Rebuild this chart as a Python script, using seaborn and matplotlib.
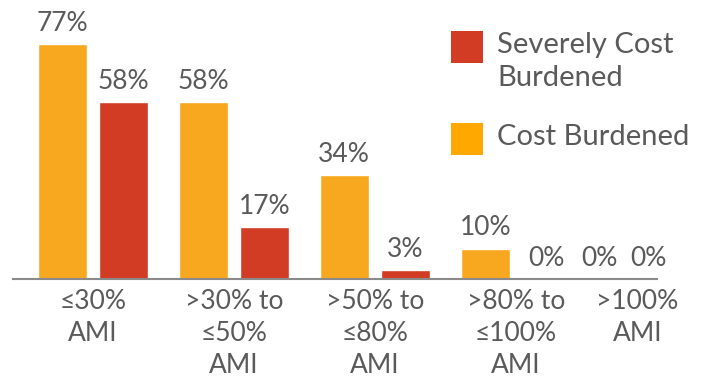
import matplotlib
matplotlib.use("Agg")
import matplotlib.pyplot as plt
import matplotlib.transforms as mtransforms
from matplotlib.patches import Rectangle
import seaborn as sns
import pandas as pd

categories = ["≤30%\nAMI", ">30% to\n≤50%\nAMI", ">50% to\n≤80%\nAMI", ">80% to\n≤100%\nAMI", ">100%\nAMI"]
cost_burdened = [77, 58, 34, 10, 0]
severely_burdened = [58, 17, 3, 0, 0]
series_names = ["Cost Burdened", "Severely Cost Burdened"]

ORANGE = "#F8A81F"
RED = "#D23B24"
LEGEND_ORANGE = "#FFA800"
TEXT = "#5A5A5A"

df = pd.DataFrame({
    "income": categories * 2,
    "share": cost_burdened + severely_burdened,
    "series": [series_names[0]] * len(categories) + [series_names[1]] * len(categories),
})

sns.set_theme(style="white")
plt.rcParams["font.family"] = ["Lato", "DejaVu Sans"]

fig = plt.figure(figsize=(7.06, 3.77), dpi=100)
ax = fig.add_axes([0.0184, 0.26, 0.912, 0.687])

sns.barplot(data=df, x="income", y="share", hue="series", hue_order=series_names,
            palette=[ORANGE, RED], width=0.868, gap=0.205, saturation=1,
            legend=False, ax=ax)

ax.set_xlim(-0.567, 4.0)
ax.set_ylim(0, 85)
ax.set_xlabel("")
ax.set_ylabel("")
ax.set_yticks([])
for side in ["top", "left", "right"]:
    ax.spines[side].set_visible(False)
ax.spines["bottom"].set_color("#8A8A8A")
ax.spines["bottom"].set_linewidth(1.5)
ax.tick_params(axis="x", length=0, pad=7, labelsize=19, labelcolor=TEXT)
for lbl in ax.get_xticklabels():
    lbl.set_linespacing(1.35)
    lbl.set_verticalalignment("top")

# last category label sits nudged left to stay inside the plot area
last_tick = ax.get_xticklabels()[-1]
last_tick.set_transform(last_tick.get_transform() +
                        mtransforms.ScaledTranslation(-14 / 72, 0, fig.dpi_scale_trans))

# value labels above each bar; the final group's labels are pulled inward
shifts = {0: [0, 0, 0, 0, -19], 1: [0, 0, 0, 0, -28]}
for s_idx, container in enumerate(ax.containers):
    values = cost_burdened if s_idx == 0 else severely_burdened
    for i, (bar, v) in enumerate(zip(container.patches, values)):
        x = bar.get_x() + bar.get_width() / 2
        ax.annotate(f"{v}%", xy=(x, bar.get_height()), xytext=(shifts[s_idx][i], 6),
                    textcoords="offset points", ha="center", va="bottom",
                    fontsize=19, color=TEXT, annotation_clip=False)

# legend: swatches with the first text line aligned to each swatch
sw_x, sw_w, sw_h = 0.6388, 0.0453, 0.0849
txt_x = 0.704
legend_rows = [
    (RED, 0.8329, ["Severely Cost", "Burdened"], [0.8806, 0.7931]),
    (LEGEND_ORANGE, 0.5889, ["Cost Burdened"], [0.6366]),
]
for color, y0, lines, ys in legend_rows:
    fig.add_artist(Rectangle((sw_x, y0), sw_w, sw_h, transform=fig.transFigure,
                             facecolor=color, edgecolor="none"))
    for line, ty in zip(lines, ys):
        fig.text(txt_x, ty, line, fontsize=21, color=TEXT, ha="left", va="center")

fig.savefig("out.png", dpi=100)
